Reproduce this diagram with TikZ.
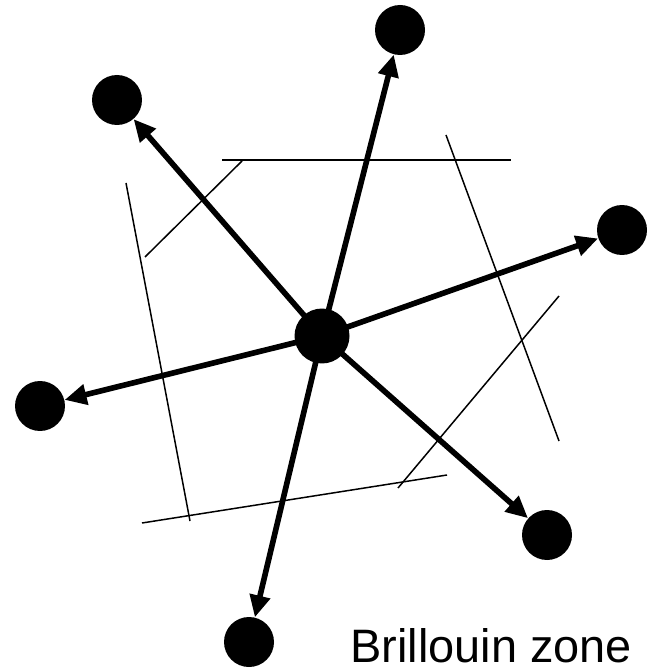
\documentclass[tikz,border=0pt]{standalone}
\usepackage{fontspec}
\setmainfont{Liberation Sans}
\usepackage{xcolor}
\usetikzlibrary{arrows.meta}

\begin{document}
\begin{tikzpicture}[x=0.02cm, y=-0.02cm,
  site/.style={circle, fill=black, inner sep=0pt, minimum size=1cm},
  kvec/.style={line width=3.2pt, -{Triangle[length=0.44cm, width=0.4cm]}},
  zone/.style={line width=0.85pt}]
\useasboundingbox (0,0) rectangle (654,668);
% lattice sites
\node[site, minimum size=1.1cm] (G) at (322,336) {};
\node[site] (top) at (400,30) {};
\node[site] (tl) at (117,100) {};
\node[site] (rt) at (622,230) {};
\node[site] (lf) at (40,406) {};
\node[site] (br) at (547,535) {};
\node[site] (bt) at (249,642) {};
% zone boundaries
\draw[zone] (222,160) -- (511,160);
\draw[zone] (242,161) -- (145,257);
\draw[zone] (126,183) -- (190,521);
\draw[zone] (446,135) -- (559,441);
\draw[zone] (142,523) -- (447,475);
\draw[zone] (559,296) -- (398,488);
% reciprocal vectors
\foreach \s in {top,tl,rt,lf,br,bt}
  \draw[kvec] (G.center) -- (\s);
\node[anchor=base west, inner sep=0pt, font=\fontsize{26.7}{30}\selectfont] (lbl) at (350,662) {Brillouin zone};
\end{tikzpicture}
\end{document}
